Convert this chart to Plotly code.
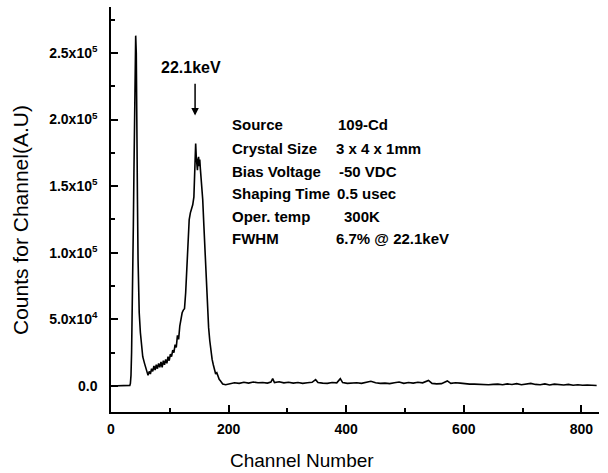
import plotly.graph_objects as go

# Spectrum data (channel, counts)
channels = [0, 30, 32, 33, 34, 35, 36, 37, 38, 39, 40, 41, 42, 43, 44, 45, 46, 47, 48, 50, 52, 54, 57, 60,
            63, 65, 67, 69, 71, 73, 75, 77, 79, 81, 83, 85, 87, 89, 91, 93, 95, 97, 99, 101, 103, 105, 107,
            109, 111, 113, 115, 117, 119, 121, 123, 125, 127, 129, 131, 133, 135, 137, 139, 141, 142, 143,
            144, 145, 146, 147, 148, 149, 150, 151, 152, 154, 156, 158, 160, 162, 164, 166, 168, 170, 172,
            174, 176, 178, 180, 182, 184, 186, 188, 190, 195, 200, 205,
            210, 218, 226, 234, 242, 250, 258, 266, 272, 275, 278, 286, 294, 302, 310, 318, 326, 334, 342,
            348, 352, 360, 368, 376, 384, 390, 394, 402, 410, 418, 426, 434, 442, 450, 458, 466, 474, 482,
            490, 498, 506, 514, 522, 530, 540, 546, 554, 562, 572, 578, 586, 594, 602, 610, 618, 626, 634,
            642, 650, 658, 666, 674, 682, 690, 698, 706, 714, 722, 730, 738, 746, 754, 762, 770, 778, 786,
            794, 802, 810, 818, 826]
counts_k = [0, 0, 0.5, 2, 8, 25, 50, 85, 120, 160, 200, 240, 263, 250, 215, 140, 95, 70, 55, 40, 30, 22, 17, 13,
            8, 11, 9, 13, 11, 15, 12, 16, 13, 17, 14, 18, 14, 19, 16, 20, 17, 22, 19, 24, 22, 27, 25,
            31, 29, 38, 35, 45, 52, 55, 57, 58, 70, 88, 104, 125, 130, 133, 136, 142, 165, 176,
            182, 172, 168, 162, 170, 172, 165, 170, 163, 152, 140, 120, 100, 78, 58, 44, 34, 26, 20,
            16, 11, 9, 10, 7, 5, 4, 3, 1.5, 1, 1.5, 2,
            2.5, 2.0, 2.8, 2.2, 3.0, 2.4, 2.6, 2.2, 3.0, 5.5, 2.6, 3.2, 2.4, 2.8, 2.2, 2.6, 2.0, 2.4, 2.8,
            4.8, 2.6, 2.2, 2.0, 2.6, 2.4, 5.5, 2.6, 2.0, 2.2, 2.4, 2.0, 2.6, 3.6, 2.4, 2.0, 2.2, 1.8, 2.4,
            3.0, 2.0, 2.6, 2.2, 2.8, 2.4, 4.2, 2.0, 1.6, 1.8, 3.8, 2.0, 2.4, 2.2, 1.6, 1.4, 1.4, 1.2, 1.4,
            1.0, 1.2, 1.4, 1.0, 1.6, 1.2, 1.8, 1.0, 1.6, 2.0, 1.2, 1.0, 1.6, 0.8, 1.4, 1.0, 0.8, 1.2, 0.6,
            1.0, 0.6, 0.8, 0.4, 0.4]
counts = [c * 1000 for c in counts_k]

y_tick_vals = [0, 50000, 100000, 150000, 200000, 250000]
y_tick_text = ["0.0", "5.0x10<sup>4</sup>", "1.0x10<sup>5</sup>", "1.5x10<sup>5</sup>",
               "2.0x10<sup>5</sup>", "2.5x10<sup>5</sup>"]
x_tick_vals = [0, 200, 400, 600, 800]

info_labels = ["Source", "Crystal Size", "Bias Voltage", "Shaping Time", "Oper. temp", "FWHM"]
info_values = ["109-Cd", "3 x 4 x 1mm", "-50 VDC", "0.5 usec", "300K", "6.7% @ 22.1keV"]
info_value_x = [383, 380, 385, 381, 393, 380]

FONT = "Liberation Sans, Arial, sans-serif"

fig = go.Figure()
fig.add_trace(go.Scatter(x=channels, y=counts, mode="lines",
                         line=dict(color="black", width=1.6), showlegend=False))

axis_common = dict(showgrid=False, zeroline=False, showline=True, linecolor="black", linewidth=1.5,
                   ticks="inside", tickcolor="black", tickwidth=1.5, ticklen=7,
                   tickfont=dict(family=FONT, size=14, color="black", weight="bold"))

fig.update_xaxes(range=[0, 830], tickvals=x_tick_vals, ticktext=[str(v) for v in x_tick_vals],
                 minor=dict(dtick=100, tick0=0, ticks="inside", ticklen=4, tickcolor="black", tickwidth=1.5),
                 ticklabelstandoff=3, **axis_common)
fig.update_yaxes(range=[-19500, 284500], tickvals=y_tick_vals, ticktext=y_tick_text,
                 minor=dict(dtick=25000, tick0=0, ticks="inside", ticklen=4, tickcolor="black", tickwidth=1.5),
                 ticklabelstandoff=9, **axis_common)

# Axis titles
fig.add_annotation(xref="paper", yref="paper", x=(302 - 111) / 488, y=(412 - 460) / 405,
                   yanchor="middle", xanchor="center", text="Channel Number", showarrow=False,
                   font=dict(family=FONT, size=19, color="black"))
fig.add_annotation(xref="paper", yref="paper", x=(20 - 111) / 488, y=(412 - 220) / 405,
                   xanchor="center", yanchor="middle", textangle=-90, text="Counts for Channel(A.U)",
                   showarrow=False, font=dict(family=FONT, size=21, color="black"))

# Peak marker
fig.add_annotation(x=143, y=203000, ax=143, ay=228000, axref="x", ayref="y", text="",
                   showarrow=True, arrowhead=2, arrowsize=1, arrowwidth=1.5, arrowcolor="black")
fig.add_annotation(x=136, y=239000, text="22.1keV", showarrow=False,
                   font=dict(family=FONT, size=16, color="black", weight="bold"))

row_y = [125, 149, 171.5, 194, 216.5, 238.5]
for lab, val, vx, py in zip(info_labels, info_values, info_value_x, row_y):
    yv = (386 - py) * 750.75
    fig.add_annotation(x=202, y=yv, text=lab, showarrow=False, xanchor="left",
                       font=dict(family=FONT, size=15, color="black", weight="bold"))
    fig.add_annotation(x=vx, y=yv, text=val, showarrow=False, xanchor="left",
                       font=dict(family=FONT, size=15, color="black", weight="bold"))

fig.update_layout(width=608, height=473, margin=dict(l=111, r=9, t=7, b=61),
                  plot_bgcolor="white", paper_bgcolor="white")
fig.write_html("out.html")
